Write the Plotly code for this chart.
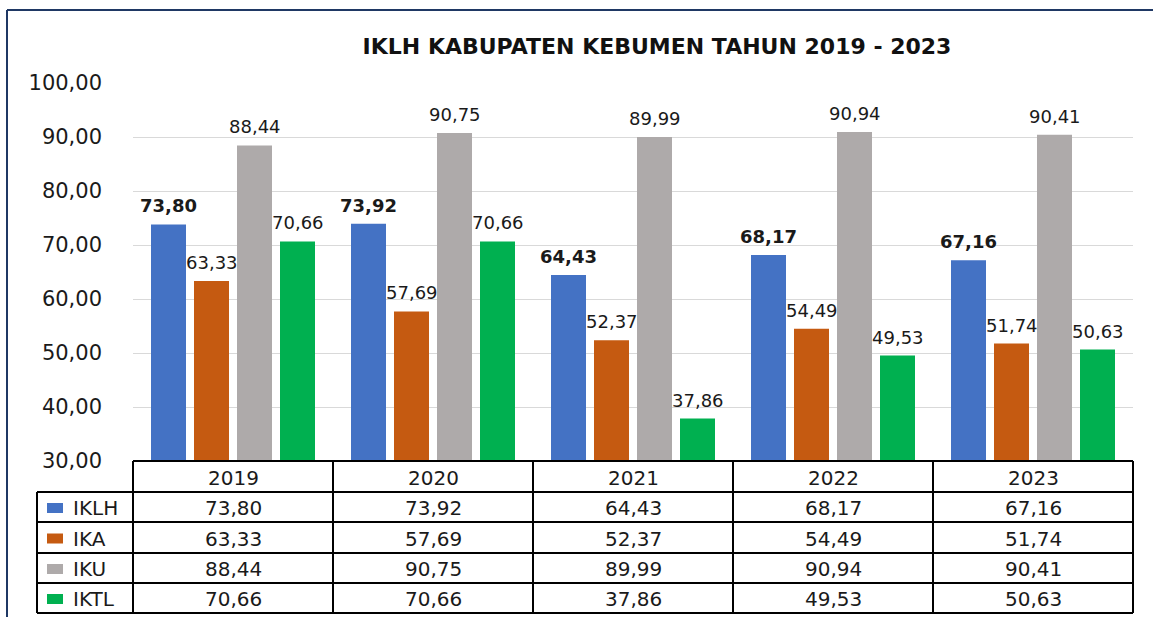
import plotly.graph_objects as go

years = ["2019", "2020", "2021", "2022", "2023"]
series_names = ["IKLH", "IKA", "IKU", "IKTL"]
iklh = [73.80, 73.92, 64.43, 68.17, 67.16]
ika = [63.33, 57.69, 52.37, 54.49, 51.74]
iku = [88.44, 90.75, 89.99, 90.94, 90.41]
iktl = [70.66, 70.66, 37.86, 49.53, 50.63]
values = [iklh, ika, iku, iktl]
colors = ["#4472C4", "#C55A11", "#AEAAAA", "#00B050"]
title = "IKLH KABUPATEN KEBUMEN TAHUN 2019 - 2023"

FONT = "DejaVu Sans"
W, H = 1153, 617
ML, MR, MT, MB = 133, 20, 83, 156
PW = W - ML - MR
PH = H - MT - MB


def px2x(px):
    return (px - ML) / PW


def py2y(py):
    return (H - MB - py) / PH


def fmt(v):
    return f"{v:.2f}".replace(".", ",")


fig = go.Figure()
for name, vals, col in zip(series_names, values, colors):
    fig.add_trace(go.Bar(x=years, y=vals, name=name, marker_color=col,
                         marker_line_width=0, showlegend=False,
                         hoverinfo="x+y+name"))

annotations = []
# data labels above bars (x given as category index)
offsets = [-64.5, -21.5, 21.5, 64.5]
for si, (name, vals) in enumerate(zip(series_names, values)):
    for ci, v in enumerate(vals):
        txt = fmt(v)
        if si == 0:
            txt = f"<b>{txt}</b>"
        annotations.append(dict(x=ci, y=v, xref="x", yref="y", text=txt,
                                showarrow=False, xshift=offsets[si],
                                yanchor="bottom", yshift=6,
                                font=dict(family=FONT, size=18, color="#1a1a1a")))

# data table
row_edges = [461, 492, 522, 553, 583, 613]
col_edges = [133, 333, 533, 733, 933, 1133]
leg_left = 37
shapes = []
lc = dict(color="black", width=2)
shapes.append(dict(type="line", xref="paper", yref="paper",
                   x0=px2x(col_edges[0]), x1=px2x(col_edges[-1]),
                   y0=py2y(row_edges[0]), y1=py2y(row_edges[0]), line=lc))
for re_ in row_edges[1:]:
    shapes.append(dict(type="line", xref="paper", yref="paper",
                       x0=px2x(leg_left), x1=px2x(col_edges[-1]),
                       y0=py2y(re_), y1=py2y(re_), line=lc))
for ce in col_edges:
    shapes.append(dict(type="line", xref="paper", yref="paper",
                       x0=px2x(ce), x1=px2x(ce),
                       y0=py2y(row_edges[0]), y1=py2y(row_edges[-1]), line=lc))
shapes.append(dict(type="line", xref="paper", yref="paper",
                   x0=px2x(leg_left), x1=px2x(leg_left),
                   y0=py2y(row_edges[1]), y1=py2y(row_edges[-1]), line=lc))

tfont = dict(family=FONT, size=20, color="#1a1a1a")
for ci, yr in enumerate(years):
    annotations.append(dict(x=ci, xref="x", yref="paper",
                            y=py2y((row_edges[0] + row_edges[1]) / 2 + 1),
                            text=yr, showarrow=False, yanchor="middle", font=tfont))
for ri, (name, vals, col) in enumerate(zip(series_names, values, colors)):
    cy = (row_edges[ri + 1] + row_edges[ri + 2]) / 2 + 1
    for ci, v in enumerate(vals):
        annotations.append(dict(x=ci, xref="x", yref="paper", y=py2y(cy),
                                text=fmt(v), showarrow=False, yanchor="middle",
                                font=tfont))
    shapes.append(dict(type="rect", xref="paper", yref="paper",
                       x0=px2x(47), x1=px2x(63), y0=py2y(cy + 5), y1=py2y(cy - 5),
                       fillcolor=col, line_width=0))
    annotations.append(dict(x=px2x(71), xref="paper", yref="paper", y=py2y(cy),
                            text=name, showarrow=False, xanchor="left",
                            yanchor="middle", font=tfont))

# outer frame lines (top and left)
frame = dict(color="#1F3864", width=2)
shapes.append(dict(type="line", xref="paper", yref="paper",
                   x0=px2x(7), x1=px2x(W), y0=py2y(10), y1=py2y(10), line=frame))
shapes.append(dict(type="line", xref="paper", yref="paper",
                   x0=px2x(7), x1=px2x(7), y0=py2y(10), y1=py2y(H), line=frame))

fig.update_layout(
    width=W, height=H,
    margin=dict(l=ML, r=MR, t=MT, b=MB, autoexpand=False),
    paper_bgcolor="white", plot_bgcolor="white",
    separators=",.",
    barmode="group", bargap=0.14, bargroupgap=0.186,
    title=dict(text=f"<b>{title}</b>", x=657 / W, xanchor="center",
               y=1 - 46 / H, yanchor="middle", yref="container",
               font=dict(family=FONT, size=22, color="#111111")),
    xaxis=dict(type="category", range=[-0.5, len(years) - 0.5],
               showticklabels=False, showgrid=False,
               zeroline=False, showline=False, ticks=""),
    yaxis=dict(range=[30, 100], dtick=10, tick0=30, tickformat=".2f",
               showgrid=True, gridcolor="#D9D9D9", gridwidth=1,
               zeroline=False, showline=False, ticks="",
               ticklabelstandoff=30,
               tickfont=dict(family=FONT, size=21, color="#1a1a1a")),
    shapes=shapes,
    annotations=annotations,
    font=dict(family=FONT),
)

fig.write_html("out.html", config={"displayModeBar": False},
               post_script="document.body.style.margin='0';"
                           "document.body.style.overflow='hidden';")
